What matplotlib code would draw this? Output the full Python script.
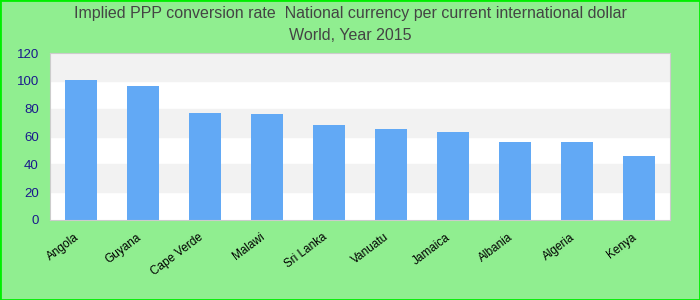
import matplotlib
matplotlib.use("Agg")
import matplotlib.pyplot as plt

countries = ["Angola", "Guyana", "Cape Verde", "Malawi", "Sri Lanka",
             "Vanuatu", "Jamaica", "Albania", "Algeria", "Kenya"]
values = [100.7, 96.4, 77.0, 76.2, 68.3, 65.5, 63.3, 56.1, 56.1, 46.0]
yticks = [0, 20, 40, 60, 80, 100, 120]

plt.rcParams['font.family'] = ['Liberation Sans', 'DejaVu Sans']

fig = plt.figure(figsize=(7, 3), dpi=100, facecolor='#90ee90')
fig.patches.append(plt.Rectangle((0, 0), 1, 1, transform=fig.transFigure,
                                 fill=False, edgecolor='#00ee00', linewidth=2))
ax = fig.add_axes([50 / 700, 80 / 300, 620 / 700, 167 / 300])
ax.set_facecolor('white')

# alternating bands
for i in range(len(yticks) - 1):
    if i % 2 == 1:
        ax.axhspan(yticks[i], yticks[i + 1], color='#f2f2f2', zorder=0)

x = range(len(countries))
ax.bar(x, values, width=0.52, color='#62a9f5', zorder=2)
ax.set_xlim(-0.5, len(countries) - 0.5)
ax.set_ylim(0, 120)
ax.set_yticks(yticks)
ax.tick_params(axis='y', length=0, labelsize=9.5, labelcolor='#1a1a8c', pad=8)
ax.set_xticks(list(x))
ax.set_xticklabels(countries, rotation=37, ha='right', fontsize=8.5)
ax.tick_params(axis='x', length=0, pad=8)
for s in ax.spines.values():
    s.set_color('#cccccc')

fig.text(0.5, 0.955, "Implied PPP conversion rate  National currency per current international dollar",
         ha='center', va='center', fontsize=11.5, color='#444444')
fig.text(0.5, 0.88, "World, Year 2015", ha='center', va='center', fontsize=11.5, color='#444444')

plt.savefig('out.png', dpi=100, facecolor=fig.get_facecolor())
